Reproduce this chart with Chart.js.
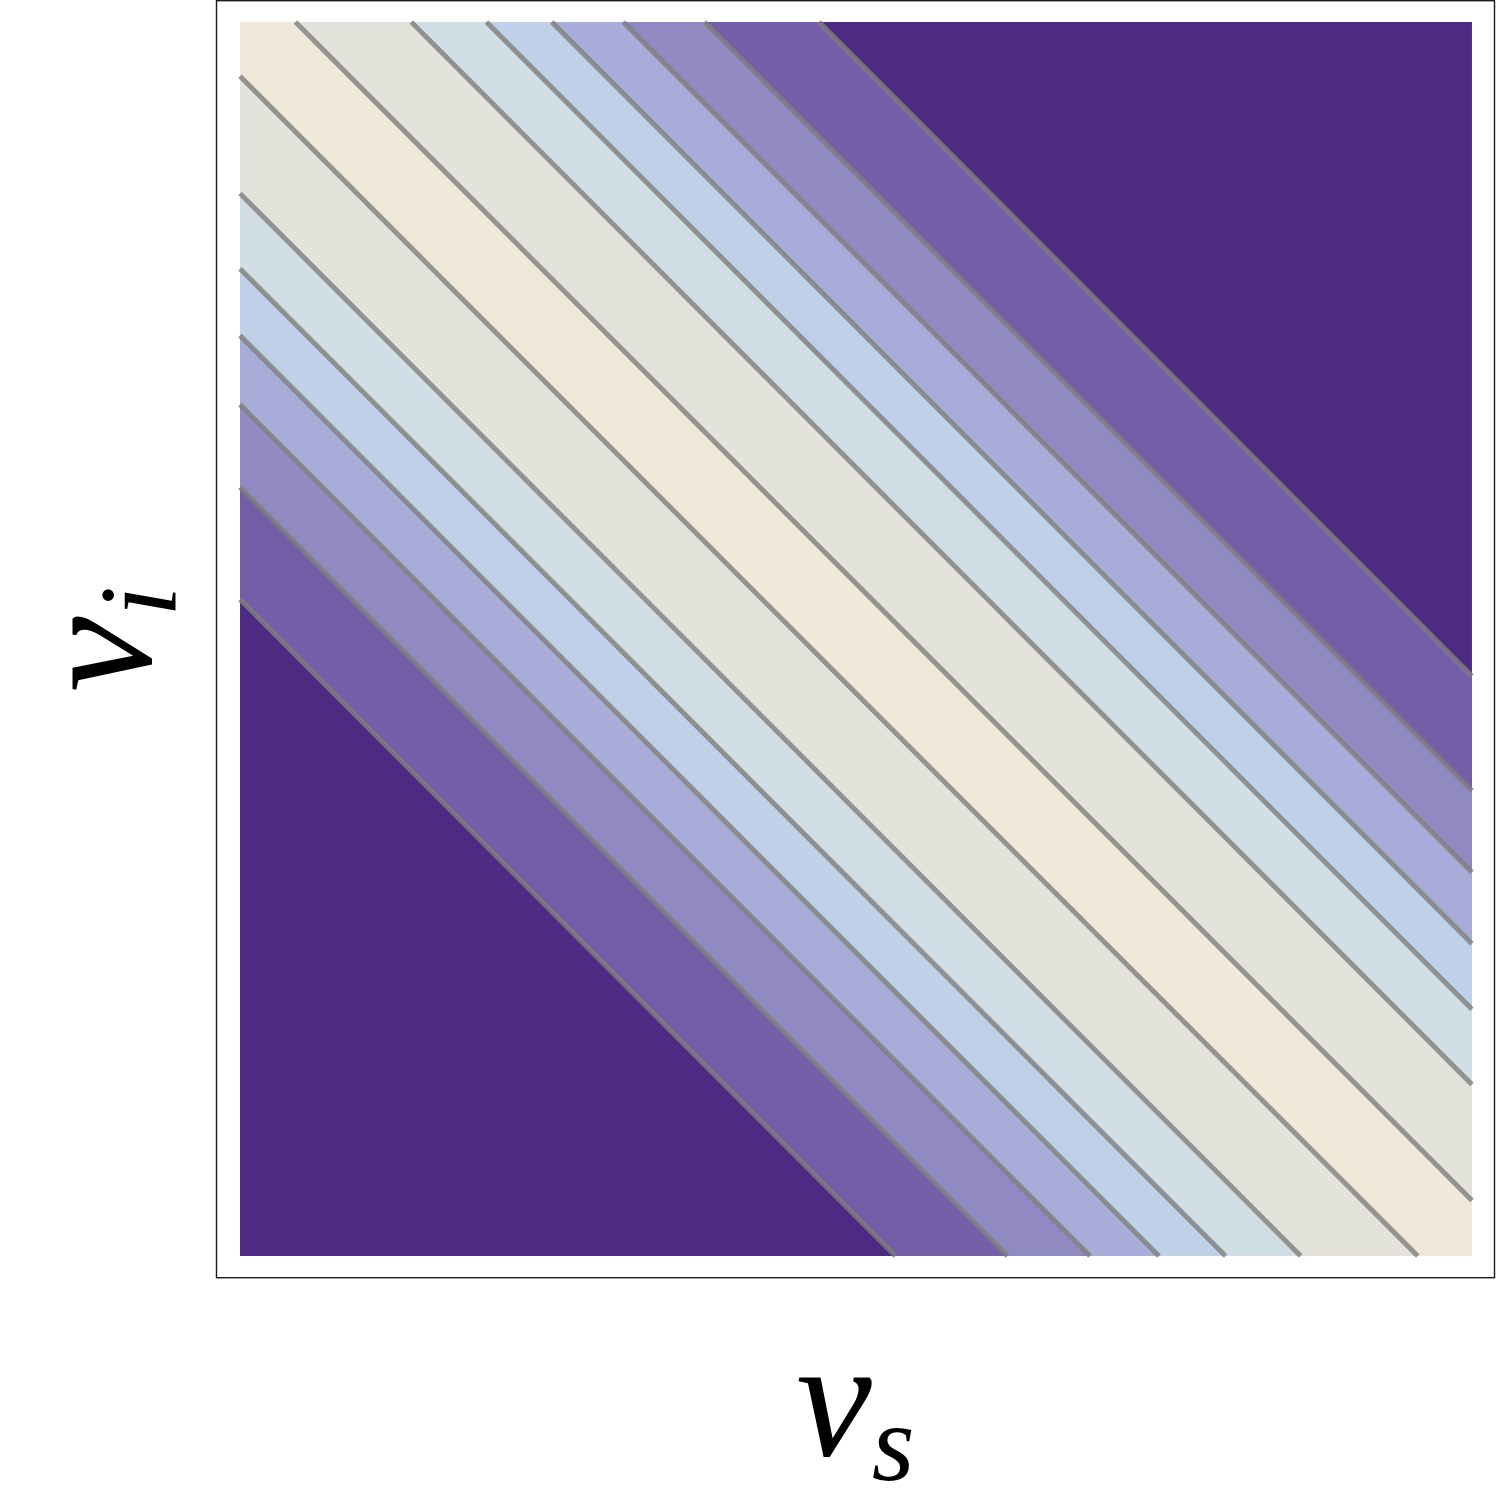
<!DOCTYPE html>
<html>
<head>
<meta charset="utf-8">
<script src="https://cdn.jsdelivr.net/npm/chart.js@4.4.0/dist/chart.umd.min.js"></script>
<style>
  html, body { margin: 0; padding: 0; background: #fff; }
</style>
</head>
<body>
<canvas id="myChart" width="1500" height="1500"></canvas>
<script>
// contour levels of nu_s + nu_i, below and above the ridge at 1 (ridge outward)
const lowerLevels = [0.956, 0.861, 0.800, 0.746, 0.690, 0.623, 0.532];
const upperLevels = [1.045, 1.139, 1.200, 1.253, 1.311, 1.377, 1.470];
// band fills, ridge outward; the last one is outside every contour
const bandColors = ['#f0e8d8', '#e3e3db', '#d1dee5', '#bfd1e8', '#a8acd8', '#9189c2', '#755ea8', '#4e2b82'];
const xTitle = ['ν', 's'];
const yTitle = ['ν', 'i'];

const lineColor = 'rgba(128,126,124,0.8)';

// region lo <= x+y <= hi inside the unit square
function band(lo, hi) {
  return [
    {x: 0, y: lo}, {x: 0, y: 1}, {x: hi - 1, y: 1},
    {x: 1, y: hi - 1}, {x: 1, y: 0}, {x: lo, y: 0}
  ];
}

// segment of x+y=c inside the unit square
function contour(c) {
  if (c <= 1) return [{x: 0, y: c}, {x: c, y: 0}];
  return [{x: c - 1, y: 1}, {x: 1, y: c - 1}];
}

const datasets = [];
datasets.push({
  data: [{x: 0, y: 0}, {x: 0, y: 1}, {x: 1, y: 1}, {x: 1, y: 0}],
  backgroundColor: bandColors[7],
  borderColor: 'rgba(0,0,0,0)',
  borderWidth: 0,
  fill: 'shape',
  order: 30
});
for (let k = lowerLevels.length - 1; k >= 0; k--) {
  datasets.push({
    data: band(lowerLevels[k], upperLevels[k]),
    backgroundColor: bandColors[k],
    borderColor: 'rgba(0,0,0,0)',
    borderWidth: 0,
    fill: 'shape',
    order: 10 + k
  });
}
lowerLevels.concat(upperLevels).forEach(c => {
  datasets.push({
    data: contour(c),
    borderColor: lineColor,
    borderWidth: 5,
    fill: false,
    order: 0
  });
});

function drawSubLabel(ctx, parts, x, y, angle) {
  ctx.save();
  ctx.translate(x, y);
  ctx.rotate(angle);
  ctx.fillStyle = '#000';
  ctx.textBaseline = 'alphabetic';
  ctx.textAlign = 'left';
  const mainFont = 'italic 170px "Liberation Serif"';
  const subFont = 'italic 110px "Liberation Serif"';
  ctx.font = mainFont;
  const w1 = ctx.measureText(parts[0]).width;
  ctx.font = subFont;
  const w2 = ctx.measureText(parts[1]).width;
  const start = -(w1 + w2) / 2;
  ctx.font = mainFont;
  ctx.fillText(parts[0], start, 0);
  ctx.font = subFont;
  ctx.fillText(parts[1], start + w1, 25);
  ctx.restore();
}

const frameAndTitles = {
  id: 'frameAndTitles',
  afterDraw(chart) {
    const {ctx, chartArea: a} = chart;
    ctx.save();
    ctx.strokeStyle = '#1a1a1a';
    ctx.lineWidth = 1.4;
    ctx.strokeRect(a.left + 0.5, a.top + 0.7, a.right - a.left - 1, a.bottom - a.top - 1);
    ctx.restore();
    drawSubLabel(ctx, xTitle, (a.left + a.right) / 2, a.bottom + 177, 0);
    drawSubLabel(ctx, yTitle, 150, (a.top + a.bottom) / 2, -Math.PI / 2);
  }
};

const ctx = document.getElementById('myChart').getContext('2d');
const myChart = new Chart(ctx, {
  type: 'line',
  data: { datasets: datasets },
  options: {
    responsive: false,
    animation: false,
    events: [],
    layout: { padding: { left: 216, right: 5, top: 0, bottom: 222 } },
    elements: { point: { radius: 0 }, line: { tension: 0 } },
    scales: {
      x: { type: 'linear', min: -0.0195, max: 1.0187, display: false },
      y: { type: 'linear', min: -0.0178, max: 1.0178, display: false }
    },
    plugins: {
      legend: { display: false },
      tooltip: { enabled: false }
    }
  },
  plugins: [frameAndTitles]
});
</script>
</body>
</html>
